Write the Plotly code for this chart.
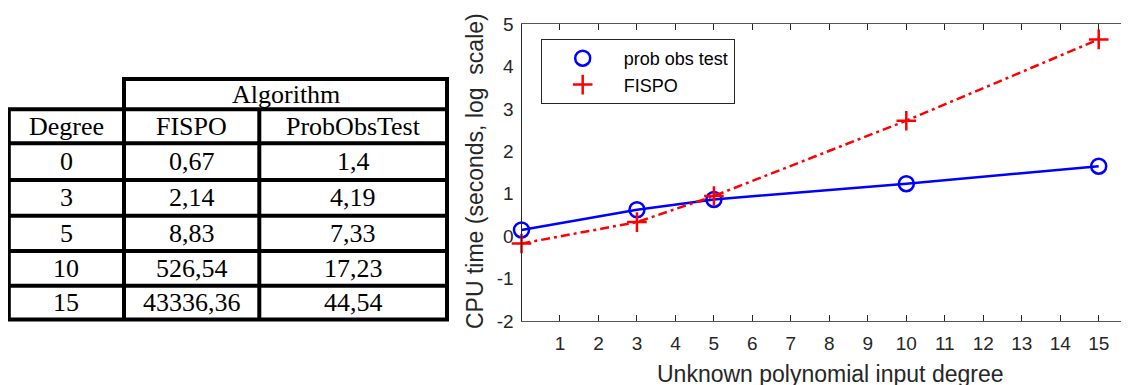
import plotly.graph_objects as go

# ---------------- data ----------------
degrees = [0, 3, 5, 10, 15]
fispo_times = [0.67, 2.14, 8.83, 526.54, 43336.36]
probobs_times = [1.4, 4.19, 7.33, 17.23, 44.54]
x_tick_vals = list(range(1, 16))
y_tick_exponents = [-2, -1, 0, 1, 2, 3, 4, 5]
table_group = "Algorithm"
table_header = ["Degree", "FISPO", "ProbObsTest"]
series_names = ["prob obs test", "FISPO"]
x_title = "Unknown polynomial input degree"
y_title = "CPU time (seconds, log  scale)"

# ---------------- layout helpers (reference pixels -> paper) ----------------
OFF = 8                      # page body margin of the browser
W, H = 1129 - OFF, 385 - OFF
PLOT_TOP, PLOT_BOTTOM = 24, 321          # in reference pixels
MT = PLOT_TOP - OFF
MB = H - (PLOT_BOTTOM - OFF)
PLOT_H = H - MT - MB
X0_PX = 521.5
UNIT_PX = 38.48


def px(x):
    return (x - OFF) / W


def py(y):
    return (PLOT_BOTTOM - y) / PLOT_H


def fmt(v):
    return repr(v).replace(".", ",")


AX = "#262626"
fig = go.Figure()

fig.add_trace(go.Scatter(
    x=degrees, y=probobs_times, mode="lines+markers", name=series_names[0],
    line=dict(color="#0000FF", width=2.5),
    marker=dict(symbol="circle-open", size=15, color="#0000FF", line=dict(width=2.5)),
    cliponaxis=False, showlegend=False,
))
fig.add_trace(go.Scatter(
    x=degrees, y=fispo_times, mode="lines+markers", name=series_names[1],
    line=dict(color="#FF0000", width=2.5, dash="9px,4px,3px,4px"),
    marker=dict(symbol="cross-thin-open", size=14, color="#FF0000", line=dict(width=2.5, color="#FF0000")),
    cliponaxis=False, showlegend=False,
))
# legend-only entries (markers only, as in the reference)
fig.add_trace(go.Scatter(
    x=[None], y=[None], mode="markers", name=series_names[0],
    marker=dict(symbol="circle-open", size=15, color="#0000FF", line=dict(width=2.5)),
))
fig.add_trace(go.Scatter(
    x=[None], y=[None], mode="markers", name=series_names[1],
    marker=dict(symbol="cross-thin-open", size=14, color="#FF0000", line=dict(width=2.5, color="#FF0000")),
))

shapes = []
annotations = []

# ---------------- table ----------------
col_x = [8.8, 124, 259.3, 447]
row_y = [109.3, 143.3, 180, 215.7, 251, 285.7, 319.5]
top_y = 79
LW = 4


def hline(x0, x1, y):
    shapes.append(dict(type="line", xref="paper", yref="paper",
                       x0=px(x0 - LW / 2), x1=px(x1 + LW / 2), y0=py(y), y1=py(y),
                       line=dict(color="black", width=LW)))


def vline(x, y0, y1):
    shapes.append(dict(type="line", xref="paper", yref="paper",
                       x0=px(x), x1=px(x), y0=py(y0), y1=py(y1),
                       line=dict(color="black", width=LW)))


hline(col_x[1], col_x[3], top_y)
for y in row_y:
    hline(col_x[0], col_x[3], y)
vline(col_x[0], row_y[0], row_y[-1])
vline(col_x[1], top_y, row_y[-1])
vline(col_x[2], row_y[0], row_y[-1])
vline(col_x[3], top_y, row_y[-1])

TFONT = dict(family="Liberation Serif, Times New Roman, serif", size=26, color="black")


def cell_text(text, xc, yc):
    annotations.append(dict(text=text, x=px(xc), y=py(yc), xref="paper", yref="paper",
                            showarrow=False, xanchor="center", yanchor="middle", font=TFONT))


cell_text(table_group, (col_x[1] + col_x[3]) / 2, (top_y + row_y[0]) / 2)
for j, h in enumerate(table_header):
    cell_text(h, (col_x[j] + col_x[j + 1]) / 2, (row_y[0] + row_y[1]) / 2)
for i, d in enumerate(degrees):
    yc = (row_y[i + 1] + row_y[i + 2]) / 2
    cell_text(str(d), (col_x[0] + col_x[1]) / 2, yc)
    cell_text(fmt(fispo_times[i]), (col_x[1] + col_x[2]) / 2, yc)
    cell_text(fmt(probobs_times[i]), (col_x[2] + col_x[3]) / 2, yc)

# ---------------- axis titles ----------------
SFONT = "Liberation Sans, Arial, sans-serif"
annotations.append(dict(text=x_title, x=px(830), y=py(374), xref="paper", yref="paper",
                        showarrow=False, xanchor="center", yanchor="middle",
                        font=dict(family=SFONT, size=23, color=AX)))
annotations.append(dict(text=y_title, x=px(475), y=py(171), xref="paper", yref="paper",
                        showarrow=False, xanchor="center", yanchor="middle", textangle=-90,
                        font=dict(family=SFONT, size=23, color=AX)))

x_end = (1129 - X0_PX) / UNIT_PX

fig.update_layout(
    width=W, height=H,
    margin=dict(l=0, r=0, t=MT, b=MB, pad=0),
    paper_bgcolor="white", plot_bgcolor="white",
    shapes=shapes, annotations=annotations,
    font=dict(family=SFONT, color=AX),
    xaxis=dict(
        domain=[px(X0_PX), 1], range=[0, x_end],
        tickvals=x_tick_vals, ticktext=[str(v) for v in x_tick_vals],
        ticks="inside", ticklen=6, tickwidth=1, tickcolor=AX,
        showline=True, linecolor="#555555", linewidth=1, mirror="ticks",
        showgrid=False, zeroline=False,
        tickfont=dict(family=SFONT, size=19, color=AX),
        ticklabelstandoff=5,
    ),
    yaxis=dict(
        type="log", range=[-2, 5],
        tickvals=[10.0 ** e for e in y_tick_exponents],
        ticktext=[str(e) for e in y_tick_exponents],
        ticks="", showline=True, linecolor=AX, linewidth=1, mirror=False,
        showgrid=False, zeroline=False,
        tickfont=dict(family=SFONT, size=19, color=AX),
        ticklabelstandoff=3,
    ),
    legend=dict(
        x=px(540.7), y=py(39), xanchor="left", yanchor="top",
        bordercolor=AX, borderwidth=1, bgcolor="white",
        font=dict(family=SFONT, size=18, color="black"),
        itemwidth=72, traceorder="normal",
    ),
    showlegend=True,
)

fig.write_html("out.html")
